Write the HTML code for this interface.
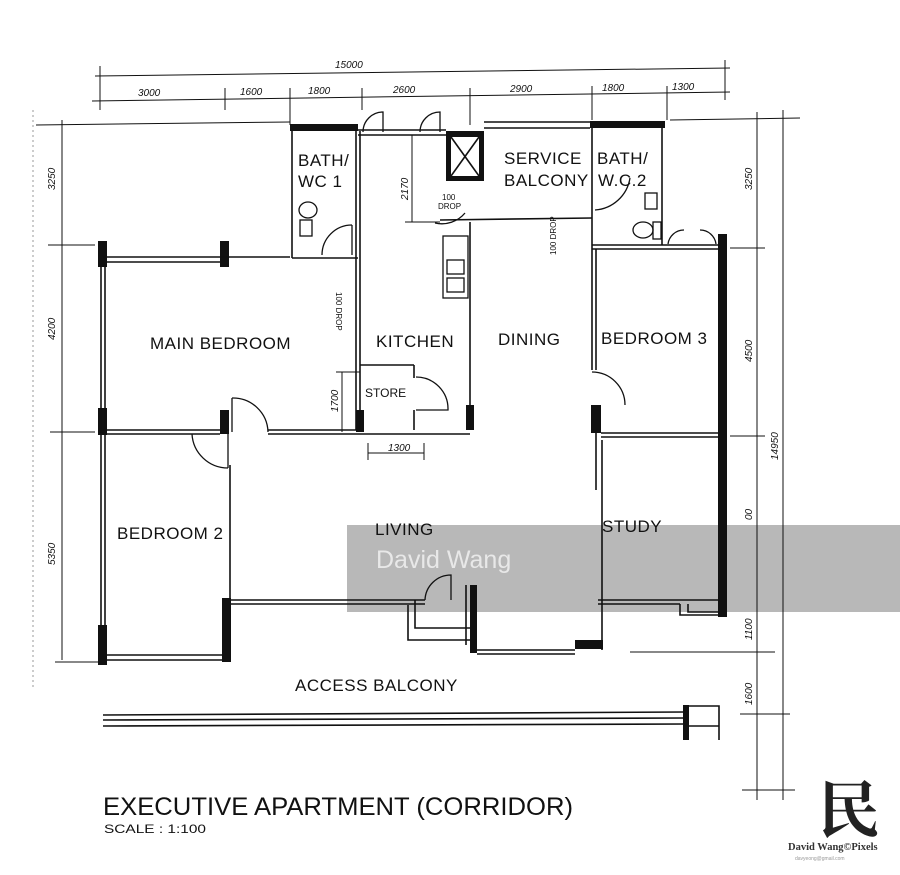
<!DOCTYPE html>
<html><head><meta charset="utf-8"><style>
html,body{margin:0;padding:0;background:#fff;width:900px;height:875px;overflow:hidden}
svg{display:block}
text{font-family:"Liberation Sans",sans-serif;fill:#111}
.d{font-size:10px;font-style:italic}
.r{font-size:17px;letter-spacing:0.5px}
</style></head><body>
<svg width="900" height="875" viewBox="0 0 900 875" xmlns="http://www.w3.org/2000/svg">
<rect x="347" y="525" width="553" height="87" fill="#b8b8b8"/>
<text x="376" y="568" style="font-size:25px;fill:#e8e8e8">David Wang</text>
<g stroke="#111" fill="none" stroke-width="1">
<line x1="95" y1="76" x2="730" y2="68"/>
<line x1="92" y1="101" x2="730" y2="92"/>
<line x1="100" y1="66" x2="100" y2="110"/><line x1="725" y1="60" x2="725" y2="100"/>
<line x1="225" y1="88" x2="225" y2="110"/><line x1="290" y1="88" x2="290" y2="125"/>
<line x1="362" y1="88" x2="362" y2="110"/><line x1="470" y1="88" x2="470" y2="125"/>
<line x1="592" y1="86" x2="592" y2="120"/><line x1="667" y1="86" x2="667" y2="120"/>
<line x1="62" y1="120" x2="62" y2="660"/>
<line x1="36" y1="125" x2="290" y2="122"/>
<line x1="48" y1="245" x2="95" y2="245"/>
<line x1="50" y1="432" x2="95" y2="432"/>
<line x1="55" y1="662" x2="100" y2="662"/>
<line x1="33" y1="110" x2="33" y2="690" stroke-dasharray="2 3" stroke="#999"/>
<line x1="757" y1="112" x2="757" y2="800"/>
<line x1="783" y1="110" x2="783" y2="800"/>
<line x1="670" y1="120" x2="800" y2="118"/>
<line x1="730" y1="248" x2="765" y2="248"/>
<line x1="730" y1="436" x2="765" y2="436"/>
<line x1="630" y1="652" x2="775" y2="652"/>
<line x1="740" y1="714" x2="790" y2="714"/>
<line x1="742" y1="790" x2="795" y2="790"/>
<line x1="412" y1="135" x2="412" y2="222"/><line x1="405" y1="222" x2="440" y2="222"/>
<line x1="342" y1="372" x2="342" y2="432"/><line x1="336" y1="372" x2="360" y2="372"/>
<line x1="368" y1="453" x2="424" y2="453"/><line x1="368" y1="443" x2="368" y2="460"/><line x1="424" y1="443" x2="424" y2="460"/>
</g>
<g fill="#111">
<rect x="290" y="124" width="68" height="7"/>
<rect x="590" y="121" width="75" height="7"/>
<rect x="718" y="234" width="9" height="383"/>
<rect x="98" y="241" width="9" height="26"/>
<rect x="220" y="241" width="9" height="26"/>
<rect x="98" y="408" width="9" height="27"/>
<rect x="220" y="410" width="9" height="24"/>
<rect x="98" y="625" width="9" height="40"/>
<rect x="222" y="598" width="9" height="64"/>
<rect x="356" y="410" width="8" height="22"/>
<rect x="466" y="405" width="8" height="25"/>
<rect x="591" y="405" width="10" height="28"/>
<rect x="470" y="585" width="7" height="68"/>
<rect x="575" y="640" width="28" height="9"/>
<rect x="446" y="131" width="38" height="6"/><rect x="446" y="131" width="5" height="50"/><rect x="479" y="131" width="5" height="50"/><rect x="446" y="176" width="38" height="5"/>
<rect x="683" y="705" width="6" height="35"/>
</g>
<g stroke="#111" fill="none" stroke-width="1.6">
<line x1="292" y1="131" x2="292" y2="258"/><line x1="356" y1="131" x2="356" y2="430"/><line x1="360" y1="131" x2="360" y2="430"/>
<line x1="292" y1="258" x2="358" y2="258"/>
<line x1="358" y1="130" x2="446" y2="130"/><line x1="358" y1="135" x2="446" y2="135"/>
<line x1="451" y1="137" x2="479" y2="176"/><line x1="479" y1="137" x2="451" y2="176"/>
<line x1="484" y1="122" x2="590" y2="122"/><line x1="484" y1="128" x2="590" y2="128"/>
<line x1="440" y1="220" x2="592" y2="218"/>
<line x1="470" y1="222" x2="470" y2="430"/>
<line x1="592" y1="128" x2="592" y2="370"/><line x1="662" y1="128" x2="662" y2="245"/>
<line x1="592" y1="245" x2="720" y2="245"/><line x1="592" y1="249" x2="720" y2="249"/>
<line x1="103" y1="257" x2="290" y2="257"/><line x1="107" y1="262" x2="220" y2="262"/>
<line x1="101" y1="267" x2="101" y2="625"/><line x1="105" y1="267" x2="105" y2="625"/>
<line x1="103" y1="430" x2="220" y2="430"/><line x1="103" y1="434" x2="220" y2="434"/>
<line x1="268" y1="430" x2="356" y2="430"/><line x1="268" y1="434" x2="470" y2="434"/>
<line x1="360" y1="365" x2="414" y2="365"/><line x1="414" y1="365" x2="414" y2="378"/><line x1="414" y1="410" x2="414" y2="430"/>
<line x1="596" y1="249" x2="596" y2="370"/>
<line x1="601" y1="433" x2="718" y2="433"/><line x1="601" y1="437" x2="718" y2="437"/>
<line x1="596" y1="433" x2="596" y2="490"/><line x1="602" y1="440" x2="602" y2="650"/>
<line x1="598" y1="600" x2="718" y2="600"/><line x1="598" y1="604" x2="680" y2="604"/>
<polyline points="680,604 680,615 718,615"/><polyline points="688,604 688,612 718,612"/>
<line x1="230" y1="465" x2="230" y2="598"/>
<line x1="107" y1="655" x2="222" y2="655"/><line x1="107" y1="660" x2="222" y2="660"/>
<line x1="231" y1="600" x2="425" y2="600"/><line x1="231" y1="604" x2="425" y2="604"/>
<line x1="477" y1="650" x2="575" y2="650"/><line x1="477" y1="654" x2="575" y2="654"/>
<line x1="466" y1="585" x2="466" y2="645"/>
<polyline points="415,600 415,628 470,628"/><polyline points="408,605 408,640 470,640"/>
<line x1="103" y1="715" x2="685" y2="712"/><line x1="103" y1="720" x2="685" y2="718"/><line x1="103" y1="726" x2="685" y2="724"/>
<polyline points="689,706 719,706 719,740"/><line x1="689" y1="726" x2="719" y2="726"/>
</g>
<g stroke="#111" fill="none" stroke-width="1.3">
<path d="M232 398 A35 35 0 0 1 268 432"/><line x1="232" y1="398" x2="232" y2="432"/>
<path d="M192 434 A36 36 0 0 0 228 468"/><line x1="228" y1="434" x2="228" y2="468"/>
<path d="M322 255 A30 30 0 0 1 352 225"/><line x1="352" y1="225" x2="352" y2="255"/>
<path d="M416 377 A32 32 0 0 1 448 410 L416 410"/>
<path d="M592 372 A33 33 0 0 1 625 405"/>
<path d="M595 210 A38 38 0 0 0 630 178"/>
<path d="M435 223 A30 30 0 0 0 465 213"/>
<path d="M425 600 A26 26 0 0 1 451 575 L451 600"/>
<path d="M363 132 A20 20 0 0 1 383 112 L383 132"/><path d="M420 132 A20 20 0 0 1 440 112 L440 132"/>
<path d="M668 244 A16 16 0 0 1 684 230"/><path d="M716 244 A16 16 0 0 0 700 230"/>
<ellipse cx="308" cy="210" rx="9" ry="8"/><rect x="300" y="220" width="12" height="16"/>
<ellipse cx="643" cy="230" rx="10" ry="8"/><rect x="653" y="222" width="8" height="17"/><rect x="645" y="193" width="12" height="16"/>
<rect x="443" y="236" width="25" height="62"/><rect x="447" y="260" width="17" height="14"/><rect x="447" y="278" width="17" height="14"/>
</g>
<text class="r" x="298" y="166">BATH/</text>
<text class="r" x="298" y="187">WC 1</text>
<text class="r" x="504" y="164">SERVICE</text>
<text class="r" x="504" y="186">BALCONY</text>
<text class="r" x="597" y="164">BATH/</text>
<text class="r" x="598" y="186">W.C.2</text>
<text class="r" x="150" y="349">MAIN  BEDROOM</text>
<text class="r" x="376" y="347">KITCHEN</text>
<text class="r" x="498" y="345">DINING</text>
<text class="r" x="601" y="344">BEDROOM 3</text>
<text x="365" y="397" style="font-size:12px">STORE</text>
<text class="r" x="117" y="539">BEDROOM 2</text>
<text class="r" x="375" y="535">LIVING</text>
<text class="r" x="602" y="532">STUDY</text>
<text class="r" x="295" y="691">ACCESS  BALCONY</text>
<text class="d" x="335" y="68">15000</text>
<text class="d" x="138" y="96">3000</text>
<text class="d" x="240" y="95">1600</text>
<text class="d" x="308" y="94">1800</text>
<text class="d" x="393" y="93">2600</text>
<text class="d" x="510" y="92">2900</text>
<text class="d" x="602" y="91">1800</text>
<text class="d" x="672" y="90">1300</text>
<text class="d" x="388" y="451">1300</text>
<text transform="translate(55,190) rotate(-90)" class="d">3250</text>
<text transform="translate(55,340) rotate(-90)" class="d">4200</text>
<text transform="translate(55,565) rotate(-90)" class="d">5350</text>
<text transform="translate(752,190) rotate(-90)" class="d">3250</text>
<text transform="translate(752,362) rotate(-90)" class="d">4500</text>
<text transform="translate(752,520) rotate(-90)" class="d">00</text>
<text transform="translate(752,640) rotate(-90)" class="d">1100</text>
<text transform="translate(752,705) rotate(-90)" class="d">1600</text>
<text transform="translate(778,460) rotate(-90)" class="d">14950</text>
<text transform="translate(408,200) rotate(-90)" class="d">2170</text>
<text transform="translate(338,412) rotate(-90)" class="d">1700</text>
<text x="442" y="200" style="font-size:8px">100</text><text x="438" y="209" style="font-size:8px">DROP</text>
<text transform="translate(556,255) rotate(-90)" style="font-size:8px">100 DROP</text>
<text transform="translate(336,292) rotate(90)" style="font-size:8px">100 DROP</text>
<text x="103" y="815" textLength="470" lengthAdjust="spacingAndGlyphs" style="font-size:25px">EXECUTIVE  APARTMENT  (CORRIDOR)</text>
<text x="104" y="833" textLength="102" lengthAdjust="spacingAndGlyphs" style="font-size:12px">SCALE : 1:100</text>
<text x="818" y="832" style='font-family:"Liberation Serif","Noto Serif CJK SC",serif;font-size:62px;font-weight:bold;fill:#222'>民</text>
<text x="788" y="850" style='font-family:"Liberation Serif",serif;font-size:10.5px;font-weight:bold;fill:#333'>David Wang©Pixels</text>
<text x="795" y="860" style="font-size:5px;fill:#999">davyeong@gmail.com</text>
</svg>
</body></html>
